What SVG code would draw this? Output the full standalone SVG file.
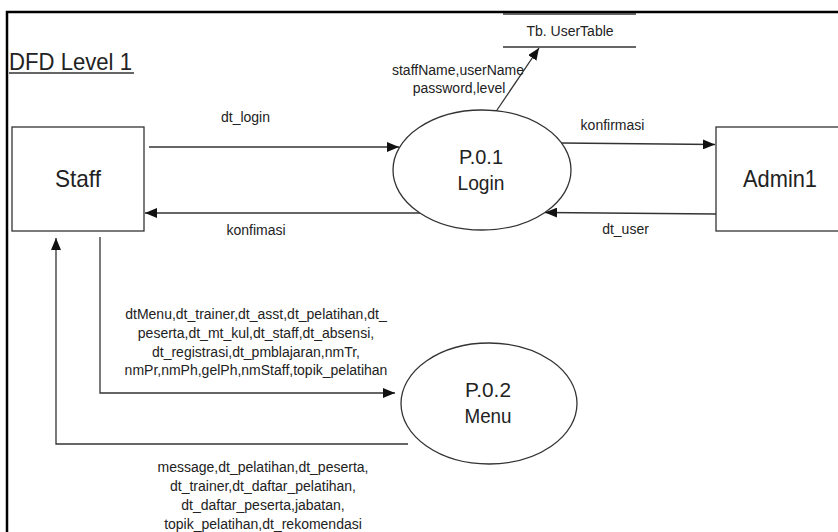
<svg xmlns="http://www.w3.org/2000/svg" width="838" height="532" viewBox="0 0 838 532">
<style>
text{font-family:"Liberation Sans",Arial,sans-serif;fill:#222}
.lbl{font-size:14px;text-anchor:middle}
.big{font-size:24px;text-anchor:middle}
.proc{font-size:20.5px;text-anchor:middle}
.shape{fill:#fff;stroke:#333;stroke-width:1.3}
.flow{fill:none;stroke:#333;stroke-width:1.3}
.frame{fill:none;stroke:#000;stroke-width:2.5}
</style>
<defs>
<marker id="ah" markerUnits="userSpaceOnUse" markerWidth="12" markerHeight="10" refX="12" refY="5" orient="auto">
<path d="M0,0 L12,5 L0,10 Z" fill="#111"/>
</marker>
</defs>
<rect width="838" height="532" fill="#fff"/>
<path class="frame" d="M7,540 V12 H845"/>
<g id="title">
<text x="9" y="70" font-size="24" textLength="123" lengthAdjust="spacingAndGlyphs">DFD Level 1</text>
<line x1="9" y1="73" x2="134" y2="73" stroke="#333" stroke-width="1.3"/>
</g>
<g id="staff">
<rect class="shape" x="12" y="127" width="132" height="104"/>
<text class="big" x="78" y="187" textLength="46" lengthAdjust="spacingAndGlyphs">Staff</text>
</g>
<g id="admin1">
<rect class="shape" x="716" y="127" width="140" height="104"/>
<text class="big" x="780" y="187" textLength="74" lengthAdjust="spacingAndGlyphs">Admin1</text>
</g>
<g id="p01">
<ellipse class="shape" cx="482" cy="170" rx="89" ry="60"/>
<text class="proc" x="481" y="164" textLength="44" lengthAdjust="spacingAndGlyphs">P.0.1</text>
<text class="proc" x="481" y="190" textLength="47" lengthAdjust="spacingAndGlyphs">Login</text>
</g>
<g id="p02">
<ellipse class="shape" cx="489" cy="403.5" rx="88" ry="60.5"/>
<text class="proc" x="488" y="397" textLength="46" lengthAdjust="spacingAndGlyphs">P.0.2</text>
<text class="proc" x="488" y="423" textLength="47" lengthAdjust="spacingAndGlyphs">Menu</text>
</g>
<g id="usertable">
<line class="flow" x1="503" y1="14" x2="636" y2="14"/>
<line class="flow" x1="503" y1="47" x2="636" y2="47"/>
<text class="lbl" x="570" y="36">Tb. UserTable</text>
</g>
<g id="connectors">
<line class="flow" x1="149" y1="147" x2="399" y2="147" marker-end="url(#ah)"/>
<line class="flow" x1="420" y1="213" x2="145" y2="213" marker-end="url(#ah)"/>
<line class="flow" x1="561" y1="143" x2="715" y2="144.5" marker-end="url(#ah)"/>
<line class="flow" x1="716" y1="214" x2="545" y2="212.5" marker-end="url(#ah)"/>
<line class="flow" x1="497" y1="110" x2="539" y2="48" marker-end="url(#ah)"/>
<polyline class="flow" points="100,237 100,393 395,393" marker-end="url(#ah)"/>
<polyline class="flow" points="408,444 56,444 56,238" marker-end="url(#ah)"/>
<text class="lbl" x="245.5" y="122">dt_login</text>
<text class="lbl" x="256" y="235">konfimasi</text>
<text class="lbl" x="612.5" y="130">konfirmasi</text>
<text class="lbl" x="625.5" y="234">dt_user</text>
<text class="lbl" x="458" y="75">staffName,userName</text>
<text class="lbl" x="459" y="93">password,level</text>
<text class="lbl" x="256" y="319">dtMenu,dt_trainer,dt_asst,dt_pelatihan,dt_</text>
<text class="lbl" x="256" y="338">peserta,dt_mt_kul,dt_staff,dt_absensi,</text>
<text class="lbl" x="256" y="356.5">dt_registrasi,dt_pmblajaran,nmTr,</text>
<text class="lbl" x="256" y="375">nmPr,nmPh,gelPh,nmStaff,topik_pelatihan</text>
<text class="lbl" x="263" y="472">message,dt_pelatihan,dt_peserta,</text>
<text class="lbl" x="263" y="491">dt_trainer,dt_daftar_pelatihan,</text>
<text class="lbl" x="263" y="510">dt_daftar_peserta,jabatan,</text>
<text class="lbl" x="263" y="529">topik_pelatihan,dt_rekomendasi</text>
</g>
</svg>
